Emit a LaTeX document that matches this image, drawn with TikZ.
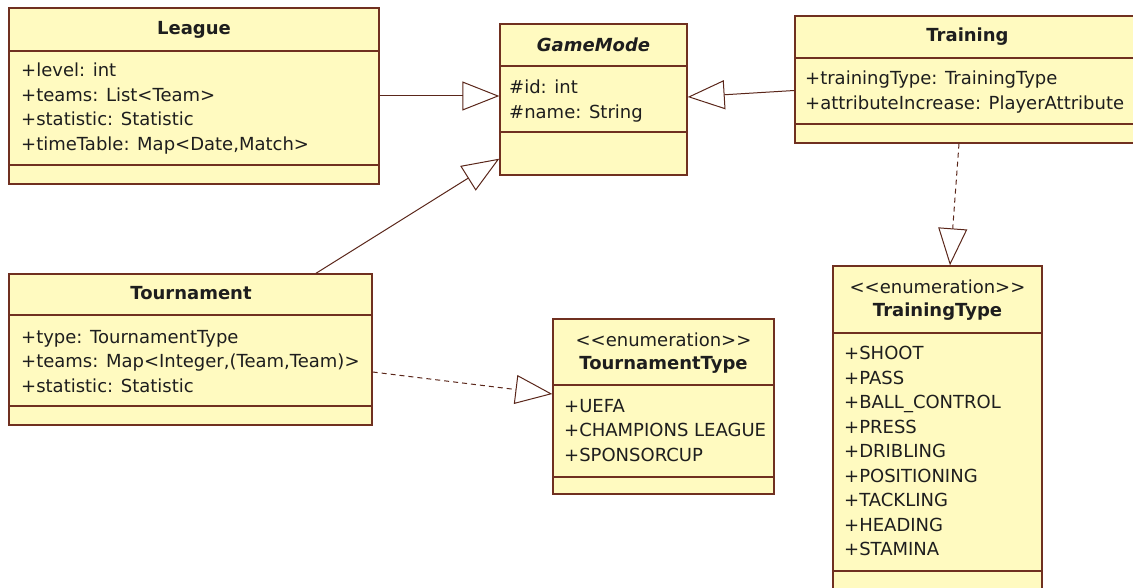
\documentclass[tikz,border=0pt]{standalone}
\usepackage{fontspec}
\setmainfont{DejaVu Sans}
\usetikzlibrary{arrows.meta}

\definecolor{umlfill}{RGB}{255,250,192}
\definecolor{umlline}{RGB}{112,48,32}
\definecolor{umltext}{RGB}{30,30,30}

\tikzset{
  classbox/.style={draw=umlline, fill=umlfill, line width=1.4pt, rectangle, inner sep=0pt},
  titletext/.style={font=\fontsize{18}{24.5}\selectfont\bfseries, text=umltext, inner sep=0pt},
  stereotext/.style={font=\fontsize{18}{24.5}\selectfont, text=umltext, inner sep=0pt},
  attrtext/.style={font=\fontsize{18}{24.5}\selectfont, text=umltext, align=left, anchor=north west, inner sep=0pt},
  divider/.style={draw=umlline, line width=1.4pt},
  inherit/.style={-{Triangle[open, length=37pt, width=29pt]}, draw=umlline!80!black, line width=1pt},
  realize/.style={inherit, dash pattern=on 5pt off 4pt}
}

\begin{document}
\begin{tikzpicture}[x=1pt, y=-1pt]
\useasboundingbox (0,0) rectangle (1133,588);
\clip (0,0) rectangle (1133,588);

% Class boxes
\node[classbox, minimum width=370pt, minimum height=176pt] (league) at (194,96) {};
\node[classbox, minimum width=187pt, minimum height=151pt] (gamemode) at (593.5,99.5) {};
\node[classbox, minimum width=345pt, minimum height=127pt] (training) at (967.5,79.5) {};
\node[classbox, minimum width=363pt, minimum height=151pt] (tournament) at (190.5,349.5) {};
\node[classbox, minimum width=221pt, minimum height=175pt] (tournamenttype) at (663.5,406.5) {};
\node[classbox, minimum width=209pt, minimum height=325pt] (trainingtype) at (937.5,428.5) {};

% Compartment lines
\draw[divider] (league.west |- 0,51) -- (league.east |- 0,51);
\draw[divider] (league.west |- 0,165) -- (league.east |- 0,165);
\draw[divider] (gamemode.west |- 0,66) -- (gamemode.east |- 0,66);
\draw[divider] (gamemode.west |- 0,132) -- (gamemode.east |- 0,132);
\draw[divider] (training.west |- 0,58) -- (training.east |- 0,58);
\draw[divider] (training.west |- 0,124) -- (training.east |- 0,124);
\draw[divider] (tournament.west |- 0,315) -- (tournament.east |- 0,315);
\draw[divider] (tournament.west |- 0,406) -- (tournament.east |- 0,406);
\draw[divider] (tournamenttype.west |- 0,385) -- (tournamenttype.east |- 0,385);
\draw[divider] (tournamenttype.west |- 0,477) -- (tournamenttype.east |- 0,477);
\draw[divider] (trainingtype.west |- 0,333) -- (trainingtype.east |- 0,333);
\draw[divider] (trainingtype.west |- 0,571) -- (trainingtype.east |- 0,571);

% Names and attributes
\node[titletext] (league-name) at (194,30) {League};
\node[attrtext] (league-attr) at (21,63) {+level: int\\+teams: List<Team>\\+statistic: Statistic\\+timeTable: Map<Date,Match>};

\node[titletext] (gamemode-name) at (593.5,45) {\itshape GameMode};
\node[attrtext] (gamemode-attr) at (509,80) {\#id: int\\\#name: String};

\node[titletext] (training-name) at (967.5,37) {Training};
\node[attrtext] (training-attr) at (805,71) {+trainingType: TrainingType\\+attributeIncrease: PlayerAttribute};

\node[titletext] (tournament-name) at (191,293) {Tournament};
\node[attrtext] (tournament-attr) at (21,330) {+type: TournamentType\\+teams: Map<Integer,(Team,Team)>\\+statistic: Statistic};

\node[stereotext] (tournamenttype-stereo) at (663.5,340) {<\kern0pt<enumeration>\kern0pt>};
\node[titletext] (tournamenttype-name) at (663.5,365) {TournamentType};
\node[attrtext] (tournamenttype-attr) at (564,399) {+UEFA\\+CHAMPIONS LEAGUE\\+SPONSORCUP};

\node[stereotext] (trainingtype-stereo) at (937.5,287) {<\kern0pt<enumeration>\kern0pt>};
\node[titletext] (trainingtype-name) at (937.5,312) {TrainingType};
\node[attrtext] (trainingtype-attr) at (844,346) {+SHOOT\\+PASS\\+BALL\_CONTROL\\+PRESS\\+DRIBLING\\+POSITIONING\\+TACKLING\\+HEADING\\+STAMINA};

% Arrows
\draw[inherit] (league.east) -- (league.east -| gamemode.west);
\draw[inherit] ([yshift=-11pt]training.west) -- ([yshift=2.5pt]gamemode.east);
\draw[inherit] ([xshift=125.5pt]tournament.north) -- ([yshift=17pt]gamemode.south west);
\draw[realize] ([yshift=-22.5pt]tournament.east) -- ([yshift=12.5pt]tournamenttype.west);
\draw[realize] ([xshift=-8.5pt]training.south) -- ([xshift=12.5pt]trainingtype.north);
\end{tikzpicture}
\end{document}
